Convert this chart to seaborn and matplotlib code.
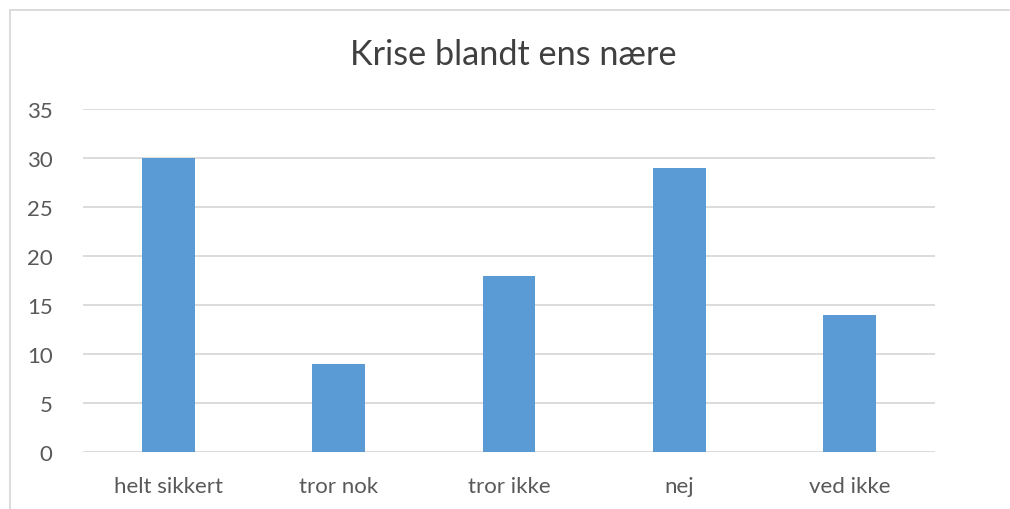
import pandas as pd
import matplotlib.pyplot as plt
import seaborn as sns
from matplotlib.patches import Rectangle

kategorier = ['helt sikkert', 'tror nok', 'tror ikke', 'nej', 'ved ikke']
antal = [30, 9, 18, 29, 14]
y_ticks = [0, 5, 10, 15, 20, 25, 30, 35]

df = pd.DataFrame({'kategori': kategorier, 'antal': antal})

sns.set_style('white')
plt.rcParams['font.family'] = ['Lato', 'DejaVu Sans']

fig = plt.figure(figsize=(10.1, 5.1), dpi=100)
ax = fig.add_axes([0.0822, 0.1118, 0.8436, 0.6725])

sns.barplot(data=df, x='kategori', y='antal', color='#5B9BD5', saturation=1,
            width=0.31, ax=ax, zorder=3, edgecolor='none')

ax.set_ylim(0, 35)
ax.set_yticks(y_ticks)
ax.set_xlim(-0.5, len(kategorier) - 0.5)
ax.yaxis.grid(True, color='#D9D9D9', linewidth=1.3, zorder=0)
ax.set_axisbelow(True)
for s in ax.spines.values():
    s.set_visible(False)
ax.tick_params(axis='both', length=0, labelsize=16, colors='#595959')
ax.tick_params(axis='x', pad=17)
ax.tick_params(axis='y', pad=22)
ax.set_xlabel('')
ax.set_ylabel('')

fig.text(0.508, 0.893, 'Krise blandt ens nære', ha='center', va='center',
         fontsize=24.7, color='#404040')

# ramme om diagramområdet
fig.patches.append(Rectangle((10 / 1010, -0.1), 1.2, 1 - 11 / 510 + 0.1,
                             transform=fig.transFigure, fill=False,
                             edgecolor='#D9D9D9', linewidth=1.3))

plt.savefig('out.png', dpi=100)
